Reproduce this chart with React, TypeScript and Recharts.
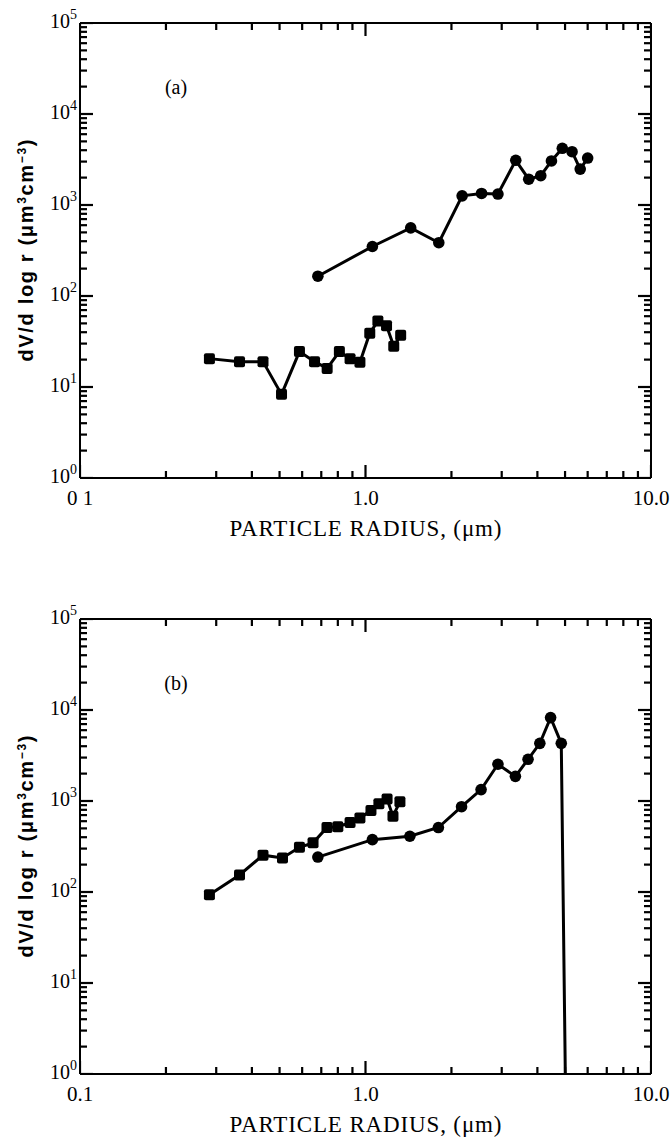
import React from 'react';
import { ScatterChart, Scatter, XAxis, YAxis } from 'recharts';

// ---------- axes ----------
const X_DOMAIN = [0.1, 10];
const Y_DOMAIN = [1, 100000];
const X_MAJOR = [0.1, 1, 10];
const X_LABELS_A = ['0 1', '1.0', '10.0'];
const X_LABELS_B = ['0.1', '1.0', '10.0'];
const Y_MAJOR = [1, 10, 100, 1000, 10000, 100000];
const X_DECADES = [0.1, 1];
const Y_DECADES = [1, 10, 100, 1000, 10000];
const MULTS = [1, 2, 3, 4, 5, 6, 7, 8, 9];
const X_TICKS = [...X_DECADES.flatMap((d) => MULTS.map((m) => m * d)), 10];
const Y_TICKS = [...Y_DECADES.flatMap((d) => MULTS.map((m) => m * d)), 100000];

// ---------- panel (a) ----------
const A_SQ_R = [0.284, 0.362, 0.4375, 0.508, 0.587, 0.663, 0.734, 0.81, 0.883, 0.956, 1.035, 1.105, 1.185, 1.256, 1.328];
const A_SQ_V = [20.5, 19, 19, 8.3, 24.5, 19, 16, 24.5, 20.5, 18.7, 39, 53, 47, 28, 37];
const A_CI_R = [0.681, 1.057, 1.44, 1.806, 2.18, 2.55, 2.91, 3.36, 3.73, 4.11, 4.48, 4.89, 5.29, 5.65, 6.0];
const A_CI_V = [165, 350, 560, 385, 1260, 1340, 1320, 3100, 1920, 2100, 3050, 4200, 3850, 2480, 3280];

// ---------- panel (b) ----------
const B_SQ_R = [0.284, 0.362, 0.4375, 0.512, 0.587, 0.655, 0.733, 0.8, 0.883, 0.956, 1.045, 1.114, 1.19, 1.248, 1.32];
const B_SQ_V = [93, 154, 254, 237, 310, 347, 511, 521, 579, 649, 787, 935, 1050, 681, 981];
const B_CI_R = [0.681, 1.057, 1.43, 1.8, 2.17, 2.54, 2.91, 3.35, 3.71, 4.08, 4.45, 4.85, 5.01];
const B_CI_V = [242, 376, 410, 511, 866, 1334, 2535, 1865, 2872, 4300, 8250, 4300, 1];

const SERIF = "'Liberation Serif', 'Times New Roman', serif";
const SANS = "'Liberation Sans Narrow', 'Liberation Sans', Arial, sans-serif";

const toPoints = (rs: number[], vs: number[]) => rs.map((r, i) => ({ r, v: vs[i] }));

const isDecade = (v: number) => {
  const l = Math.log10(v);
  return Math.abs(l - Math.round(l)) < 1e-6;
};

const MINOR_LEN = 7;
const MAJOR_LEN = 13;
const TICK_W = 2.2;

// tick-mark point sets, placed on the frame edges through the chart's own scales
const BOTTOM_MARKS = X_TICKS.map((r) => ({ r, v: Y_DOMAIN[0] }));
const TOP_MARKS = X_TICKS.map((r) => ({ r, v: Y_DOMAIN[1] }));
const LEFT_MARKS = Y_TICKS.map((v) => ({ r: X_DOMAIN[0], v }));
const RIGHT_MARKS = Y_TICKS.map((v) => ({ r: X_DOMAIN[1], v }));

const CircleShape = (props: any) => {
  const { cx, cy, payload } = props;
  if (cx == null || cy == null || payload.v <= 1) return <g />;
  return <circle cx={cx} cy={cy} r={5.8} fill="#000" />;
};

const SquareShape = (props: any) => {
  const { cx, cy } = props;
  if (cx == null || cy == null) return <g />;
  return <rect x={cx - 5.5} y={cy - 5.5} width={11} height={11} rx={2} fill="#000" />;
};

const markLen = (v: number) => (isDecade(v) ? MAJOR_LEN : MINOR_LEN);

const BottomMark = (props: any) => {
  const { cx, cy, payload } = props;
  if (cx == null || cy == null) return <g />;
  const len = markLen(payload.r);
  return <rect x={cx - TICK_W / 2} y={cy - len} width={TICK_W} height={len} fill="#000" />;
};
const TopMark = (props: any) => {
  const { cx, cy, payload } = props;
  if (cx == null || cy == null) return <g />;
  const len = markLen(payload.r);
  return <rect x={cx - TICK_W / 2} y={cy} width={TICK_W} height={len} fill="#000" />;
};
const LeftMark = (props: any) => {
  const { cx, cy, payload } = props;
  if (cx == null || cy == null) return <g />;
  const len = markLen(payload.v);
  return <rect x={cx} y={cy - TICK_W / 2} width={len} height={TICK_W} fill="#000" />;
};
const RightMark = (props: any) => {
  const { cx, cy, payload } = props;
  if (cx == null || cy == null) return <g />;
  const len = markLen(payload.v);
  return <rect x={cx - len} y={cy - TICK_W / 2} width={len} height={TICK_W} fill="#000" />;
};

const makeBottomLabel = (labels: string[]) => (props: any) => {
  const x = Number(props.x);
  const y = Number(props.y);
  const idx = X_MAJOR.findIndex((m) => Math.abs(m - props.payload.value) / m < 1e-6);
  if (idx < 0) return <g />;
  return (
    <text x={x} y={y + 27} textAnchor="middle" fontFamily={SERIF} fontSize={21} fill="#000">
      {labels[idx]}
    </text>
  );
};

const LeftLabel = (props: any) => {
  const x = Number(props.x);
  const y = Number(props.y);
  const exp = Math.round(Math.log10(props.payload.value));
  return (
    <text x={x - 3} y={y + 5} textAnchor="end" fontFamily={SERIF} fontSize={20} fill="#000">
      10
      <tspan dy={-9} fontSize={14}>
        {exp}
      </tspan>
    </text>
  );
};

type PanelProps = {
  top: number;
  height: number;
  plotTop: number;
  plotBottom: number;
  xLabels: string[];
  letter: string;
  squares: { r: number; v: number }[];
  circles: { r: number; v: number }[];
};

const PLOT_LEFT = 80;
const PLOT_RIGHT = 651;
const BOTTOM_AXIS_H = 40;
const TOP_AXIS_H = 10;
const LEFT_AXIS_W = 60;
const RIGHT_AXIS_W = 10;

const Panel = ({ top, height, plotTop, plotBottom, xLabels, letter, squares, circles }: PanelProps) => {
  const margin = {
    top: plotTop - TOP_AXIS_H,
    bottom: height - plotBottom - BOTTOM_AXIS_H,
    left: PLOT_LEFT - LEFT_AXIS_W,
    right: 671 - PLOT_RIGHT - RIGHT_AXIS_W,
  };
  const plotW = PLOT_RIGHT - PLOT_LEFT;
  const plotH = plotBottom - plotTop;
  const axisStyle = { stroke: '#000', strokeWidth: 2 };
  return (
    <div style={{ position: 'absolute', left: 0, top, width: 671, height }}>
      <ScatterChart width={671} height={height} margin={margin}>
        <XAxis
          xAxisId={0}
          dataKey="r"
          type="number"
          scale="log"
          domain={X_DOMAIN}
          allowDataOverflow
          ticks={X_MAJOR}
          interval={0}
          height={BOTTOM_AXIS_H}
          tickSize={0}
          tickMargin={0}
          tickLine={false}
          axisLine={axisStyle}
          tick={makeBottomLabel(xLabels)}
        />
        <XAxis
          xAxisId="top"
          orientation="top"
          dataKey="r"
          type="number"
          scale="log"
          domain={X_DOMAIN}
          allowDataOverflow
          ticks={X_MAJOR}
          height={TOP_AXIS_H}
          tickLine={false}
          axisLine={axisStyle}
          tick={false}
        />
        <YAxis
          yAxisId={0}
          dataKey="v"
          type="number"
          scale="log"
          domain={Y_DOMAIN}
          allowDataOverflow
          ticks={Y_MAJOR}
          interval={0}
          width={LEFT_AXIS_W}
          tickSize={0}
          tickMargin={0}
          tickLine={false}
          axisLine={axisStyle}
          tick={LeftLabel}
        />
        <YAxis
          yAxisId="right"
          orientation="right"
          dataKey="v"
          type="number"
          scale="log"
          domain={Y_DOMAIN}
          allowDataOverflow
          ticks={Y_MAJOR}
          width={RIGHT_AXIS_W}
          tickLine={false}
          axisLine={axisStyle}
          tick={false}
        />
        <Scatter data={BOTTOM_MARKS} xAxisId={0} yAxisId={0} fill="#000" shape={BottomMark} isAnimationActive={false} />
        <Scatter data={TOP_MARKS} xAxisId={0} yAxisId={0} fill="#000" shape={TopMark} isAnimationActive={false} />
        <Scatter data={LEFT_MARKS} xAxisId={0} yAxisId={0} fill="#000" shape={LeftMark} isAnimationActive={false} />
        <Scatter data={RIGHT_MARKS} xAxisId={0} yAxisId={0} fill="#000" shape={RightMark} isAnimationActive={false} />
        <Scatter
          data={squares}
          xAxisId={0}
          yAxisId={0}
          fill="#000"
          stroke="#000"
          line={{ stroke: '#000', strokeWidth: 3 }}
          lineType="joint"
          shape={SquareShape}
          isAnimationActive={false}
        />
        <Scatter
          data={circles}
          xAxisId={0}
          yAxisId={0}
          fill="#000"
          stroke="#000"
          line={{ stroke: '#000', strokeWidth: 3 }}
          lineType="joint"
          shape={CircleShape}
          isAnimationActive={false}
        />
      </ScatterChart>
      <svg
        width={671}
        height={height}
        style={{ position: 'absolute', left: 0, top: 0, pointerEvents: 'none', overflow: 'visible' }}
      >
        <text x={PLOT_LEFT + 96} y={plotTop + 71} textAnchor="middle" fontFamily={SERIF} fontSize={20} fill="#000">
          {letter}
        </text>
        <text
          x={PLOT_LEFT + plotW / 2}
          y={plotBottom + 58}
          textAnchor="middle"
          fontFamily={SERIF}
          fontSize={23}
          fill="#000"
          textLength={272}
          lengthAdjust="spacing"
        >
          PARTICLE RADIUS, (μm)
        </text>
        <text
          transform={`translate(33, ${plotTop + plotH / 2}) rotate(-90)`}
          textAnchor="middle"
          fontFamily={SANS}
          fontWeight="bold"
          fontSize={20}
          fill="#000"
          textLength={222}
          lengthAdjust="spacing"
        >
          dV/d log r (μm
          <tspan dy={-7} fontSize={12}>3</tspan>
          <tspan dy={7}>cm</tspan>
          <tspan dy={-7} fontSize={12}>−3</tspan>
          <tspan dy={7}>)</tspan>
        </text>
      </svg>
    </div>
  );
};

export default function App() {
  return (
    <div style={{ position: 'absolute', left: 0, top: 0, width: 671, height: 1141, background: '#fff' }}>
      <Panel
        top={0}
        height={560}
        plotTop={23}
        plotBottom={478}
        xLabels={X_LABELS_A}
        letter="(a)"
        squares={toPoints(A_SQ_R, A_SQ_V)}
        circles={toPoints(A_CI_R, A_CI_V)}
      />
      <Panel
        top={560}
        height={581}
        plotTop={59}
        plotBottom={514}
        xLabels={X_LABELS_B}
        letter="(b)"
        squares={toPoints(B_SQ_R, B_SQ_V)}
        circles={toPoints(B_CI_R, B_CI_V)}
      />
    </div>
  );
}
